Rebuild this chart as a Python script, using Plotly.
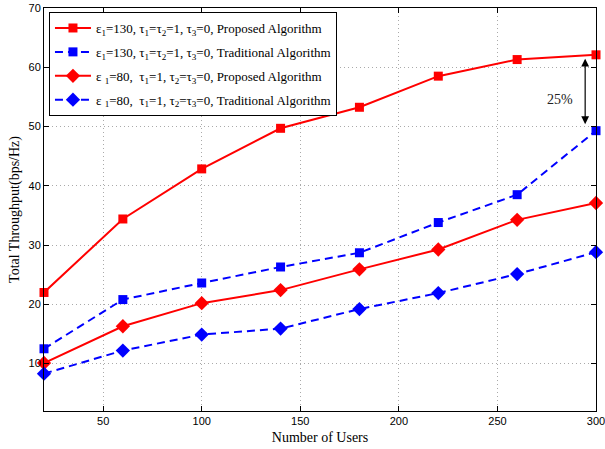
import plotly.graph_objects as go

users = [20, 60, 100, 140, 180, 220, 260, 300]
prop_130 = [22.0, 34.4, 42.85, 49.7, 53.25, 58.5, 61.3, 62.1]
trad_130 = [12.5, 20.8, 23.6, 26.3, 28.7, 33.8, 38.5, 49.3]
prop_80 = [10.1, 16.3, 20.2, 22.4, 25.9, 29.25, 34.25, 37.1]
trad_80 = [8.3, 12.2, 14.9, 15.9, 19.2, 21.9, 25.1, 28.8]

names = [
    "ε<sub>1</sub>=130, τ<sub>1</sub>=τ<sub>2</sub>=1, τ<sub>3</sub>=0, Proposed Algorithm",
    "ε<sub>1</sub>=130, τ<sub>1</sub>=τ<sub>2</sub>=1, τ<sub>3</sub>=0, Traditional Algorithm",
    "ε <sub>1</sub>=80,  τ<sub>1</sub>=1, τ<sub>2</sub>=τ<sub>3</sub>=0, Proposed Algorithm",
    "ε <sub>1</sub>=80,  τ<sub>1</sub>=1, τ<sub>2</sub>=τ<sub>3</sub>=0, Traditional Algorithm",
]

fig = go.Figure()
series = [
    (prop_130, "red", "solid", "square", 9),
    (trad_130, "blue", "8px,5px", "square", 9),
    (prop_80, "red", "solid", "diamond", 11),
    (trad_80, "blue", "8px,5px", "diamond", 11),
]
for i, ((vals, col, dash, sym, sz), nm) in enumerate(zip(series, names)):
    fig.add_trace(go.Scatter(
        x=users, y=vals, name=nm, mode="lines+markers",
        legendgroup=f"g{i}",
        line=dict(color=col, width=2, dash=dash),
        marker=dict(symbol=sym, size=sz, color=col),
        cliponaxis=False,
    ))

fig.add_annotation(x=294.5, y=50.4, ax=294.5, ay=61.7, xref="x", yref="y",
                   axref="x", ayref="y", text="", showarrow=True,
                   arrowhead=2, startarrowhead=2, arrowside="end+start",
                   arrowwidth=1.2, arrowcolor="black", arrowsize=1.3, startarrowsize=1.3)
fig.add_annotation(x=281.8, y=54.5, xref="x", yref="y", text="25%", showarrow=False,
                   font=dict(family="Liberation Serif", size=14, color="#222"))

axis_common = dict(
    showline=True, linecolor="black", linewidth=1, mirror="allticks",
    ticks="inside", ticklen=5, tickcolor="black", tickwidth=1,
    showgrid=True, gridcolor="#aaa", griddash="1px,3px", gridwidth=1,
    zeroline=False, automargin=False, ticklabeloverflow="allow",
    tickfont=dict(family="Liberation Sans", size=11, color="black"),
)
fig.update_xaxes(range=[20, 300], tickvals=[50, 100, 150, 200, 250, 300],
                 title=dict(text="Number of Users", standoff=5,
                            font=dict(family="Liberation Serif", size=14, color="black")),
                 **axis_common)
fig.update_yaxes(range=[2, 70], tickvals=[10, 20, 30, 40, 50, 60, 70],
                 title=dict(text="Total Throughput(bps/Hz)", standoff=5,
                            font=dict(family="Liberation Serif", size=14, color="black")),
                 **axis_common)

fig.update_layout(
    width=605, height=449,
    margin=dict(l=44, r=9, t=8, b=38),
    plot_bgcolor="white", paper_bgcolor="white",
    showlegend=True,
    legend=dict(x=0.009, y=0.99, xanchor="left", yanchor="top",
                bgcolor="white", bordercolor="black", borderwidth=1,
                font=dict(family="Liberation Serif", size=13, color="black"),
                tracegroupgap=4, itemwidth=36),
)

fig.write_html("out.html", config={"displayModeBar": False},
               post_script="document.body.style.margin='0';")
